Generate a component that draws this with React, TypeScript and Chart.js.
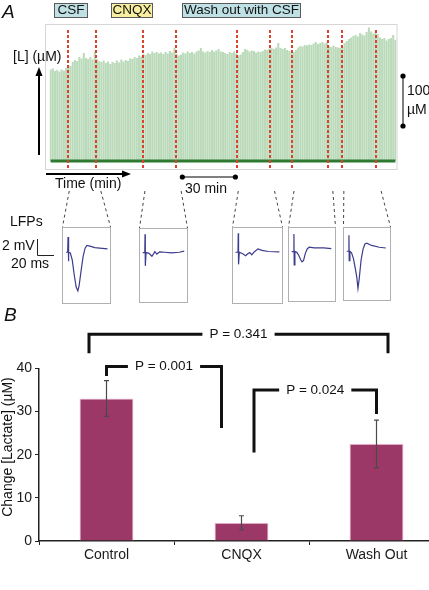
import React, { useEffect, useRef } from 'react';
import { Chart, registerables } from 'chart.js';
Chart.register(...registerables);

const FONT = 'Arial, "Liberation Sans", Helvetica, sans-serif';
Chart.defaults.font.family = FONT;

// ---------- Panel A data ----------
const lactateTrace = [
  183, 185, 180, 182, 179, 183, 181, 186, 192, 190,
  198, 202, 200, 208, 205, 216, 206, 204, 208, 203,
  219, 204, 200, 198, 201, 196, 199, 194, 198, 196,
  201, 197, 203, 199, 202, 200, 205, 204, 208, 206,
  211, 209, 214, 212, 216, 214, 219, 216, 218, 215,
  217, 214, 218, 215, 220, 217, 226, 214, 211, 213,
  217, 215, 219, 216, 218, 215, 219, 221, 226, 219,
  217, 220, 218, 222, 219, 221, 224, 219, 218, 216,
  214, 218, 216, 219, 215, 211, 213, 218, 224, 222,
  219, 221, 220, 217, 219, 218, 220, 223, 222, 225,
  226, 224, 227, 236, 226, 224, 226, 222, 220, 217,
  218, 222, 227, 230, 229, 232, 231, 233, 232, 235,
  238, 234, 236, 238, 235, 237, 230, 228, 231, 228,
  227, 226, 230, 236, 240, 244, 247, 250, 252, 249,
  256, 253, 251, 258, 267, 259, 255, 260, 254, 247,
  244, 246, 241, 244, 246, 252, 242,
];
const sampleMinutes = 1.25;
const drugEvents = [9.7, 25.6, 52.5, 71.0, 105.3, 123.8, 136.8, 156.8, 165.0, 184.1];
const lfpEventPairs = [[0, 1], [2, 3], [4, 5], [6, 7], [8, 9]];
const timeScaleBar = [74.5, 104.5];
const concScaleBar = [70, 170];
const baselineLevel = 0;
const protocolLabels = ['CSF', 'CNQX', 'Wash out with CSF'];

// LFP traces: [time (ms), potential (mV)]
const lfpCsf = [[-2.3, 0], [-0.4, 0], [0, 2.0], [0.35, -1.2], [1.0, 0], [2.7, -0.1], [5.0, -1.0], [7.4, -3.0], [9.7, -4.6], [11.7, -5.1], [13.2, -4.4], [15.5, -2.5], [17.9, -0.6], [20.2, 0.5], [22.5, 0.9], [26, 0.8], [31.9, 0.6], [37.7, 0.55], [47, 0.45]];
const lfpCnqx = [[-2.7, 0], [-0.3, 0], [0, 2.5], [0.35, -1.8], [1.2, 0], [4.7, -0.1], [8.2, -0.5], [10.5, -0.1], [11.7, 0.15], [14, -0.2], [17.5, 0.1], [23.3, 0.05], [31.5, -0.05], [40.8, 0.05], [46.7, 0.2]];
const lfpWash1 = [[-3.2, 0], [-0.3, 0], [0, 2.5], [0.35, -1.6], [1.2, 0], [5, -0.2], [8.5, -0.45], [10.8, -0.2], [13.2, -0.05], [15.5, -0.35], [17.9, 0], [22.5, 0.45], [27.2, 0.25], [34.2, 0.1], [47, 0.05]];
const lfpWash2 = [[-2.7, 0], [-0.3, 0], [0, 2.4], [0.35, -1.8], [1.2, 0], [3.5, -0.1], [5.8, -0.5], [8.2, -1.1], [9.9, -1.4], [11.7, -1.2], [14, -0.2], [16.3, 0.4], [18.7, 0.6], [24.5, 0.5], [36.2, 0.5], [45.5, 0.4]];
const lfpWash3 = [[-2.7, 0], [-0.3, 0], [0, 2.2], [0.35, -1.3], [1.2, 0], [3.2, -0.2], [5.5, -1.0], [7.8, -2.4], [9.6, -3.6], [11, -5.1], [12.5, -3.8], [14.8, -1.2], [17.2, 0.3], [19.5, 1.0], [21.8, 1.1], [27.6, 0.8], [37, 0.55], [45, 0.45]];
const lfpTraces = [lfpCsf, lfpCnqx, lfpWash1, lfpWash2, lfpWash3];

// ---------- Panel B data ----------
const categories = ['Control', 'CNQX', 'Wash Out'];
const lactateChange = [33.0, 4.2, 22.5];
const lactateSem = [4.15, 1.65, 5.5];
const yTickStep = 10;
const yMax = 40;
const pLabels = ['P = 0.341', 'P = 0.001', 'P = 0.024'];
const pPairs = [[0, 2], [0, 1], [1, 2]];
const pLevels = [47.9, 40.4, 35.0];
const pLegEnds = [[43.5, 43.5], [38.2, 26.2], [20.5, 29.4]];

// ---------- layout (positions / styles only) ----------
const lfpBoxes = [
  { x: 62, y: 227, w: 49, h: 77 },
  { x: 139, y: 228, w: 49, h: 75 },
  { x: 232, y: 227, w: 51, h: 77 },
  { x: 288, y: 227, w: 48, h: 75 },
  { x: 343, y: 227, w: 48, h: 74 },
];
const bracketPx = [[-17.5, 11.5], [0, -20], [12.5, 0]];

function dot(ctx: CanvasRenderingContext2D, x: number, y: number, r: number) {
  ctx.beginPath();
  ctx.arc(x, y, r, 0, Math.PI * 2);
  ctx.fill();
}

function TraceChart() {
  const ref = useRef<HTMLCanvasElement>(null);
  useEffect(() => {
    const canvas = ref.current!;
    const lastT = (lactateTrace.length - 1) * sampleMinutes;
    const decor = {
      id: 'decorA',
      afterDatasetsDraw(chart: any) {
        const { ctx, chartArea: ca, scales } = chart;
        const xs = scales.x, ys = scales.y;
        ctx.save();
        // frame
        ctx.strokeStyle = '#d6d6d6';
        ctx.lineWidth = 1;
        ctx.strokeRect(45.5, 24.5, 351.5, 145);
        // event lines
        ctx.strokeStyle = '#d9442e';
        ctx.lineWidth = 2;
        ctx.setLineDash([3, 2]);
        drugEvents.forEach((t) => {
          const x = Math.round(xs.getPixelForValue(t));
          ctx.beginPath();
          ctx.moveTo(x, ca.top + 5);
          ctx.lineTo(x, ca.bottom - 1);
          ctx.stroke();
        });
        // connectors to LFP boxes
        ctx.strokeStyle = '#444';
        ctx.lineWidth = 1;
        ctx.setLineDash([3, 3]);
        lfpEventPairs.forEach(([a, b], i) => {
          const box = lfpBoxes[i];
          const xa = xs.getPixelForValue(drugEvents[a]) + 1.5;
          const xb = xs.getPixelForValue(drugEvents[b]) + 5;
          ctx.beginPath();
          ctx.moveTo(xa, 191);
          ctx.lineTo(box.x + 0.5, box.y);
          ctx.moveTo(xb, 191);
          ctx.lineTo(box.x + box.w - 0.5, box.y);
          ctx.stroke();
        });
        ctx.setLineDash([]);
        // vertical arrow
        ctx.strokeStyle = '#000';
        ctx.fillStyle = '#000';
        ctx.lineWidth = 2;
        ctx.beginPath();
        ctx.moveTo(39, 155);
        ctx.lineTo(39, 74);
        ctx.stroke();
        ctx.beginPath();
        ctx.moveTo(39, 67);
        ctx.lineTo(35.5, 76);
        ctx.lineTo(42.5, 76);
        ctx.closePath();
        ctx.fill();
        // horizontal arrow
        ctx.beginPath();
        ctx.moveTo(46, 174);
        ctx.lineTo(124, 174);
        ctx.stroke();
        ctx.beginPath();
        ctx.moveTo(131, 174);
        ctx.lineTo(122, 170.5);
        ctx.lineTo(122, 177.5);
        ctx.closePath();
        ctx.fill();
        // time scale bar
        const t1 = xs.getPixelForValue(timeScaleBar[0]);
        const t2 = xs.getPixelForValue(timeScaleBar[1]);
        ctx.strokeStyle = '#555';
        ctx.lineWidth = 1.5;
        ctx.beginPath();
        ctx.moveTo(t1, 177);
        ctx.lineTo(t2, 177);
        ctx.stroke();
        dot(ctx, t1, 177, 2.6);
        dot(ctx, t2, 177, 2.6);
        // concentration scale bar
        const c1 = ys.getPixelForValue(concScaleBar[1]);
        const c2 = ys.getPixelForValue(concScaleBar[0]);
        ctx.beginPath();
        ctx.moveTo(403, c1);
        ctx.lineTo(403, c2);
        ctx.stroke();
        dot(ctx, 403, c1, 2.6);
        dot(ctx, 403, c2, 2.6);
        // LFP scale bar
        ctx.strokeStyle = '#222';
        ctx.lineWidth = 1;
        ctx.beginPath();
        ctx.moveTo(37.5, 239);
        ctx.lineTo(37.5, 255.5);
        ctx.lineTo(54, 255.5);
        ctx.stroke();
        ctx.restore();
      },
    };
    const chart = new Chart(canvas, {
      type: 'bar',
      data: {
        datasets: [
          {
            type: 'line',
            data: [{ x: 0, y: baselineLevel }, { x: lastT, y: baselineLevel }],
            borderColor: '#2f7a31',
            borderWidth: 3,
            pointRadius: 0,
            order: 0,
          } as any,
          {
            type: 'bar',
            data: lactateTrace.map((v, i) => ({ x: i * sampleMinutes, y: v })),
            backgroundColor: 'rgba(160,204,160,0.72)',
            borderWidth: 0,
            barPercentage: 0.92,
            categoryPercentage: 1,
            order: 1,
          } as any,
        ],
      },
      options: {
        animation: false,
        responsive: false,
        devicePixelRatio: 1,
        events: [],
        layout: { padding: { left: 49.5, right: 32.5, top: 25, bottom: 141 } },
        plugins: { legend: { display: false }, tooltip: { enabled: false } },
        scales: {
          x: { type: 'linear', min: -sampleMinutes / 2, max: lastT + sampleMinutes / 2, offset: false, display: false },
          y: { type: 'linear', min: -16, max: 272, display: false },
        },
      },
      plugins: [decor],
    });
    return () => chart.destroy();
  }, []);
  return <canvas ref={ref} width={429} height={310} style={{ position: 'absolute', left: 0, top: 0, width: 429, height: 310 }} />;
}

function LfpChart({ trace, box }: { trace: number[][]; box: { x: number; y: number; w: number; h: number } }) {
  const ref = useRef<HTMLCanvasElement>(null);
  useEffect(() => {
    const chart = new Chart(ref.current!, {
      type: 'line',
      data: {
        datasets: [
          {
            data: trace.map(([t, v]) => ({ x: t, y: v })),
            borderColor: '#3c3c8e',
            borderWidth: 1.2,
            pointRadius: 0,
            tension: 0,
          },
        ],
      },
      options: {
        animation: false,
        responsive: false,
        devicePixelRatio: 1,
        events: [],
        layout: { padding: 0 },
        plugins: { legend: { display: false }, tooltip: { enabled: false } },
        scales: {
          x: { type: 'linear', min: -6, max: 50, display: false },
          y: { type: 'linear', min: -6.7, max: 3.2, display: false },
        },
      },
    });
    return () => chart.destroy();
  }, [trace]);
  return (
    <div style={{ position: 'absolute', left: box.x, top: box.y, width: box.w, height: box.h, border: '1px solid #b0b0b0', boxSizing: 'border-box', background: '#fff' }}>
      <canvas ref={ref} width={box.w - 2} height={box.h - 2} style={{ display: 'block', width: box.w - 2, height: box.h - 2 }} />
    </div>
  );
}

function BarChartB() {
  const ref = useRef<HTMLCanvasElement>(null);
  useEffect(() => {
    const decor = {
      id: 'decorB',
      afterDatasetsDraw(chart: any) {
        const { ctx, scales } = chart;
        const xs = scales.x, ys = scales.y;
        const meta = chart.getDatasetMeta(0);
        ctx.save();
        // error bars
        ctx.strokeStyle = '#4a4a4a';
        ctx.lineWidth = 1.2;
        meta.data.forEach((bar: any, i: number) => {
          const x = bar.x;
          const yt = ys.getPixelForValue(lactateChange[i] + lactateSem[i]);
          const yb = ys.getPixelForValue(lactateChange[i] - lactateSem[i]);
          ctx.beginPath();
          ctx.moveTo(x, yt);
          ctx.lineTo(x, yb);
          ctx.moveTo(x - 2.5, yt);
          ctx.lineTo(x + 2.5, yt);
          ctx.moveTo(x - 2.5, yb);
          ctx.lineTo(x + 2.5, yb);
          ctx.stroke();
        });
        // significance brackets
        ctx.strokeStyle = '#111';
        ctx.fillStyle = '#111';
        ctx.lineWidth = 3;
        ctx.lineJoin = 'miter';
        ctx.lineCap = 'butt';
        ctx.font = `13.5px ${FONT}`;
        ctx.textAlign = 'center';
        ctx.textBaseline = 'middle';
        pPairs.forEach(([a, b], i) => {
          const xl = xs.getPixelForValue(a) + bracketPx[i][0];
          const xr = xs.getPixelForValue(b) + bracketPx[i][1];
          const yl = ys.getPixelForValue(pLevels[i]);
          const yA = ys.getPixelForValue(pLegEnds[i][0]);
          const yB = ys.getPixelForValue(pLegEnds[i][1]);
          const cx = (xl + xr) / 2;
          const half = ctx.measureText(pLabels[i]).width / 2 + 7;
          ctx.beginPath();
          ctx.moveTo(xl, yA);
          ctx.lineTo(xl, yl);
          ctx.lineTo(cx - half, yl);
          ctx.stroke();
          ctx.beginPath();
          ctx.moveTo(cx + half, yl);
          ctx.lineTo(xr, yl);
          ctx.lineTo(xr, yB);
          ctx.stroke();
          ctx.fillText(pLabels[i], cx, yl);
        });
        ctx.restore();
      },
    };
    const chart = new Chart(ref.current!, {
      type: 'bar',
      data: {
        labels: categories,
        datasets: [
          {
            data: lactateChange,
            backgroundColor: '#9c3867',
            borderColor: '#f2c2da',
            borderWidth: 1,
            barPercentage: 0.4,
            categoryPercentage: 1,
          },
        ],
      },
      options: {
        animation: false,
        responsive: false,
        devicePixelRatio: 1,
        events: [],
        layout: { padding: { left: 0, right: 6, top: 68.3, bottom: 0 } },
        plugins: { legend: { display: false }, tooltip: { enabled: false } },
        scales: {
          x: {
            afterFit: (s: any) => { s.height = 49; },
            grid: { offset: true, drawOnChartArea: false, drawTicks: true, tickLength: 4, color: '#222' },
            border: { display: true, color: '#222', width: 1.5 },
            ticks: { font: { size: 14, family: FONT }, color: '#1a1a1a', padding: 2 },
          },
          y: {
            min: 0,
            max: yMax,
            afterFit: (s: any) => { s.width = 39; },
            grid: { drawOnChartArea: false, drawTicks: true, tickLength: 4, color: '#222' },
            border: { display: true, color: '#222', width: 1.5 },
            ticks: { stepSize: yTickStep, font: { size: 14, family: FONT }, color: '#1a1a1a', padding: 3 },
          },
        },
      },
      plugins: [decor],
    });
    return () => chart.destroy();
  }, []);
  return <canvas ref={ref} width={450} height={290} style={{ position: 'absolute', left: 0, top: 300, width: 450, height: 290 }} />;
}

function Label({ x, y, children, size = 14, italic = false, center = false }: any) {
  return (
    <div
      style={{
        position: 'absolute',
        left: x,
        top: y,
        transform: center ? 'translate(-50%,-50%)' : 'translateY(-50%)',
        fontSize: size,
        fontStyle: italic ? 'italic' : 'normal',
        whiteSpace: 'nowrap',
        lineHeight: 1,
        color: '#111',
      }}
    >
      {children}
    </div>
  );
}

function ProtocolBox({ x, w, bg, text }: any) {
  return (
    <div
      style={{
        position: 'absolute',
        left: x,
        top: 2.5,
        width: w,
        height: 15,
        boxSizing: 'border-box',
        border: '1px solid #5a5a5a',
        background: bg,
        display: 'flex',
        alignItems: 'center',
        justifyContent: 'center',
        fontSize: 13.5,
        lineHeight: 1,
        whiteSpace: 'nowrap',
        color: '#111',
        overflow: 'visible',
      }}
    >
      {text}
    </div>
  );
}

export default function App() {
  useEffect(() => {
    document.body.style.margin = '0';
  }, []);
  return (
    <div style={{ position: 'absolute', left: 0, top: 0, width: 429, height: 590, overflow: 'hidden', background: '#fff', fontFamily: FONT }}>
      <TraceChart />
      {lfpTraces.map((t, i) => (
        <LfpChart key={i} trace={t} box={lfpBoxes[i]} />
      ))}
      <BarChartB />
      <Label x={2} y={11} size={19} italic>A</Label>
      <ProtocolBox x={54} w={34} bg="#bfe1e5" text={protocolLabels[0]} />
      <ProtocolBox x={111} w={42} bg="#f7ef9f" text={protocolLabels[1]} />
      <ProtocolBox x={182} w={119} bg="#bfe1e5" text={protocolLabels[2]} />
      <Label x={13} y={56}>[L] (µM)</Label>
      <Label x={55} y={183}>Time (min)</Label>
      <Label x={206} y={188} center>30 min</Label>
      <Label x={407} y={90}>100</Label>
      <Label x={407} y={109}>µM</Label>
      <Label x={10} y={221}>LFPs</Label>
      <Label x={2} y={245}>2 mV</Label>
      <Label x={11} y={263}>20 ms</Label>
      <Label x={4} y={314} size={19} italic>B</Label>
      <div
        style={{
          position: 'absolute',
          left: 7,
          top: 447,
          transform: 'translate(-50%,-50%) rotate(-90deg)',
          fontSize: 14,
          lineHeight: 1,
          whiteSpace: 'nowrap',
          color: '#111',
        }}
      >
        Change [Lactate] (µM)
      </div>
    </div>
  );
}
